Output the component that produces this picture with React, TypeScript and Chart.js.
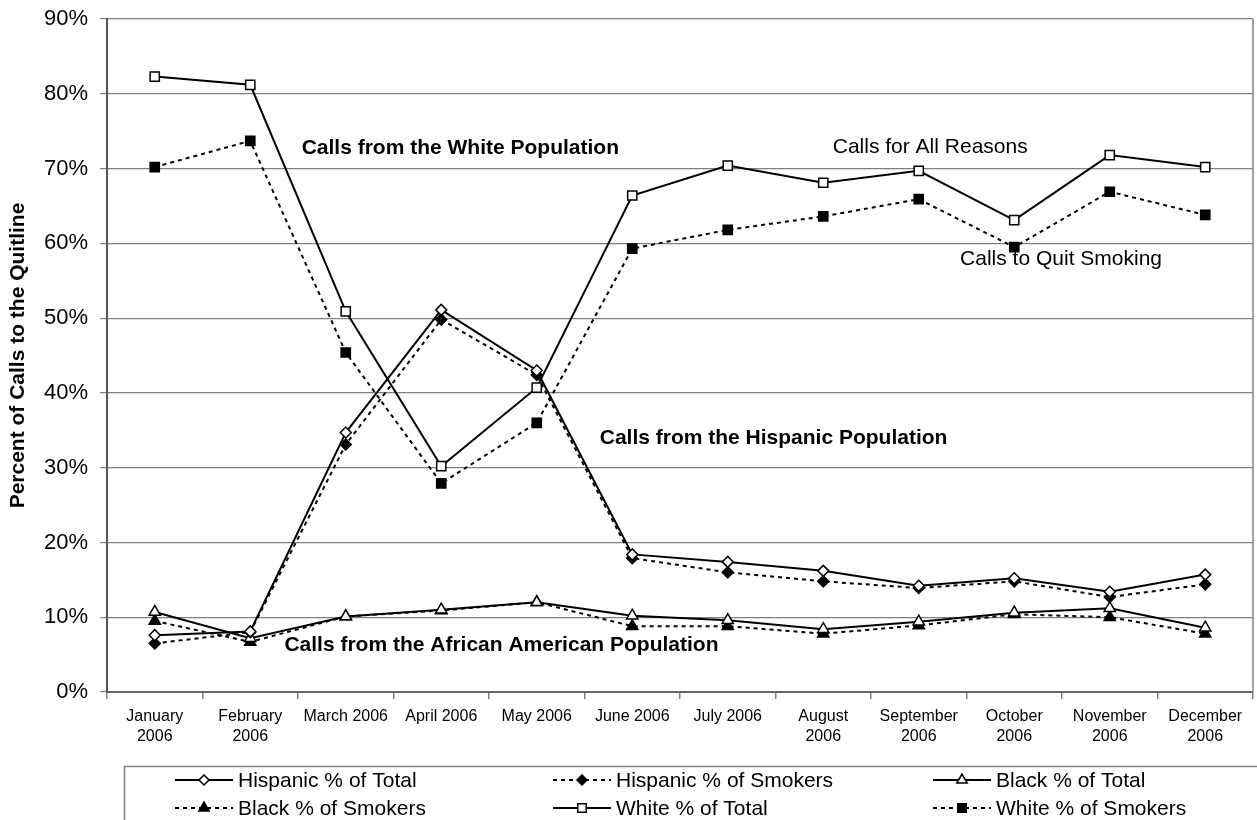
import React, { useEffect, useRef } from "react";
import { Chart, registerables } from "chart.js";

Chart.register(...registerables);

const FONT = '"Liberation Sans", Arial, Helvetica, sans-serif';

// Month categories (multi-line where the label wraps)
const months: (string | string[])[] = [
  ["January", "2006"],
  ["February", "2006"],
  "March 2006",
  "April 2006",
  "May 2006",
  "June 2006",
  "July 2006",
  ["August", "2006"],
  ["September", "2006"],
  ["October", "2006"],
  ["November", "2006"],
  ["December", "2006"],
];

// Share of quitline calls by population (%)
const hispanicTotal = [7.6, 8.1, 34.7, 51.1, 43.0, 18.4, 17.4, 16.2, 14.2, 15.2, 13.4, 15.7];
const hispanicSmokers = [6.5, 8.0, 33.1, 49.8, 42.4, 17.9, 16.0, 14.8, 13.9, 14.8, 12.7, 14.4];
const blackTotal = [10.7, 7.2, 10.1, 11.0, 12.0, 10.2, 9.6, 8.4, 9.4, 10.6, 11.2, 8.6];
const blackSmokers = [9.5, 6.7, 10.1, 10.9, 12.0, 8.8, 8.8, 7.8, 8.9, 10.4, 10.0, 7.8];
const whiteTotal = [82.3, 81.2, 50.9, 30.2, 40.7, 66.4, 70.4, 68.1, 69.7, 63.1, 71.8, 70.2];
const whiteSmokers = [70.2, 73.7, 45.4, 27.9, 36.0, 59.3, 61.8, 63.6, 65.9, 59.5, 66.9, 63.8];

const yMax = 90;
const yStep = 10;

// Text notes placed in data space (category index, percent)
const notes = [
  { text: "Calls from the White Population", x: 3.2, y: 72.7, bold: true },
  { text: "Calls for All Reasons", x: 8.12, y: 72.9, bold: false },
  { text: "Calls to Quit Smoking", x: 9.49, y: 57.9, bold: false },
  { text: "Calls from the Hispanic Population", x: 6.48, y: 34.0, bold: true },
  { text: "Calls from the African American Population", x: 3.63, y: 6.2, bold: true },
];

const DASH = [4, 4];

function series(label: string, data: number[], style: string, filled: boolean, radius: number) {
  return {
    label,
    data,
    borderColor: "#000",
    borderWidth: 2,
    borderDash: filled ? DASH : [],
    backgroundColor: filled ? "#000" : "#fff",
    pointStyle: style,
    pointRadius: radius,
    pointBorderWidth: 1.5,
    pointBorderColor: "#000",
    pointBackgroundColor: filled ? "#000" : "#fff",
    tension: 0,
    fill: false,
  };
}

function drawMarker(ctx: CanvasRenderingContext2D, style: string, x: number, y: number, r: number) {
  ctx.beginPath();
  if (style === "rect") {
    const s = Math.SQRT1_2 * r;
    ctx.rect(x - s, y - s, 2 * s, 2 * s);
  } else if (style === "rectRot") {
    ctx.moveTo(x, y - r);
    ctx.lineTo(x + r, y);
    ctx.lineTo(x, y + r);
    ctx.lineTo(x - r, y);
    ctx.closePath();
  } else if (style === "triangle") {
    ctx.moveTo(x, y - r);
    ctx.lineTo(x + Math.sin(Math.PI / 3) * r, y + r / 2);
    ctx.lineTo(x - Math.sin(Math.PI / 3) * r, y + r / 2);
    ctx.closePath();
  }
  ctx.fill();
  ctx.stroke();
}

const legendCols = [175, 553, 933];
const legendRows = [780, 808];

const decorations = {
  id: "decorations",
  afterDatasetsDraw(chart: any) {
    const { ctx, chartArea, scales } = chart;
    ctx.save();
    // right edge of the plot frame
    ctx.strokeStyle = "#808080";
    ctx.lineWidth = 1.5;
    ctx.beginPath();
    ctx.moveTo(chartArea.right, chartArea.top);
    ctx.lineTo(chartArea.right, chartArea.bottom);
    ctx.stroke();

    // notes
    ctx.fillStyle = "#000";
    ctx.textAlign = "center";
    ctx.textBaseline = "middle";
    for (const n of notes) {
      ctx.font = `${n.bold ? "bold " : ""}21px ${FONT}`;
      ctx.fillText(n.text, scales.x.getPixelForValue(n.x), scales.y.getPixelForValue(n.y));
    }
    ctx.restore();
  },
  afterDraw(chart: any) {
    const { ctx } = chart;
    ctx.save();
    // legend frame
    ctx.strokeStyle = "#808080";
    ctx.lineWidth = 1.5;
    ctx.strokeRect(124.5, 766.5, 1150, 100);

    ctx.font = `21px ${FONT}`;
    ctx.textAlign = "left";
    ctx.textBaseline = "middle";
    chart.data.datasets.forEach((ds: any, i: number) => {
      const x0 = legendCols[i % 3];
      const y = legendRows[Math.floor(i / 3)];
      const x1 = x0 + 58;
      ctx.strokeStyle = "#000";
      ctx.lineWidth = 2;
      ctx.setLineDash(ds.borderDash);
      ctx.beginPath();
      ctx.moveTo(x0, y);
      ctx.lineTo(x1, y);
      ctx.stroke();
      ctx.setLineDash([]);
      ctx.lineWidth = 1.5;
      ctx.fillStyle = ds.pointBackgroundColor;
      drawMarker(ctx, ds.pointStyle, (x0 + x1) / 2, y, ds.pointRadius - 0.5);
      ctx.fillStyle = "#000";
      ctx.fillText(ds.label, x1 + 5, y + 1);
    });
    ctx.restore();
  },
};

export default function App() {
  const ref = useRef<HTMLCanvasElement>(null);

  useEffect(() => {
    if (!ref.current) return;
    const chart = new Chart(ref.current, {
      type: "line",
      data: {
        labels: months,
        datasets: [
          series("Hispanic % of Total", hispanicTotal, "rectRot", false, 5.5),
          series("Hispanic % of Smokers", hispanicSmokers, "rectRot", true, 5.5),
          series("Black % of Total", blackTotal, "triangle", false, 6.5),
          series("Black % of Smokers", blackSmokers, "triangle", true, 6.5),
          series("White % of Total", whiteTotal, "rect", false, 6.5),
          series("White % of Smokers", whiteSmokers, "rect", true, 6.5),
        ] as any,
      },
      options: {
        responsive: false,
        animation: false,
        layout: { autoPadding: false, padding: { left: 0, top: 19, right: 4, bottom: 0 } },
        plugins: {
          legend: { display: false },
          tooltip: { enabled: false },
        },
        scales: {
          x: {
            type: "category",
            offset: true,
            grid: {
              offset: true,
              drawOnChartArea: false,
              drawTicks: true,
              tickLength: 7,
              color: "#808080",
              lineWidth: 1.5,
            },
            border: { display: true, color: "#666", width: 2 },
            ticks: {
              color: "#000",
              font: { family: FONT, size: 16, lineHeight: 1.25 },
              padding: 8,
              maxRotation: 0,
              autoSkip: false,
            },
            afterFit: (s: any) => {
              s.height = 128;
              s.paddingLeft = 0;
              s.paddingRight = 0;
            },
          },
          y: {
            min: 0,
            max: yMax,
            ticks: {
              stepSize: yStep,
              color: "#000",
              font: { family: FONT, size: 22 },
              padding: 12,
              callback: (v: any) => `${v}%`,
            },
            grid: {
              color: "#808080",
              lineWidth: 1.2,
              drawTicks: true,
              tickLength: 7,
            },
            border: { display: true, color: "#555", width: 2 },
            title: {
              display: true,
              text: "Percent of Calls to the Quitline",
              color: "#000",
              font: { family: FONT, size: 21, weight: "bold" },
              padding: { top: 6, bottom: 0 },
            },
            afterFit: (s: any) => {
              s.width = 107;
              s.paddingTop = 0;
              s.paddingBottom = 0;
            },
          },
        },
      },
      plugins: [decorations],
    });
    return () => chart.destroy();
  }, []);

  return (
    <canvas
      ref={ref}
      width={1257}
      height={820}
      style={{ position: "absolute", left: 0, top: 0, display: "block", background: "#fff" }}
    />
  );
}
